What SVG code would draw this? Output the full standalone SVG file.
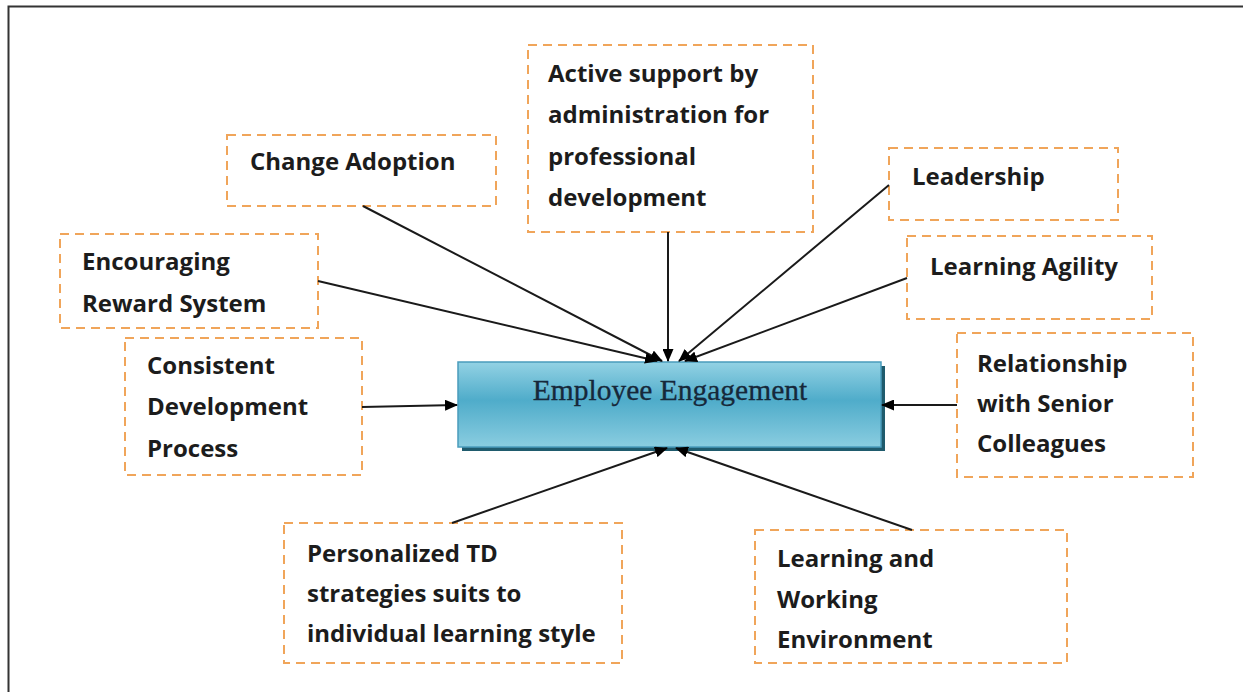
<svg xmlns="http://www.w3.org/2000/svg" width="1243" height="692" viewBox="0 0 1243 692">
  <style>
    .box { fill: #ffffff; stroke: #f0a55a; stroke-width: 2; stroke-dasharray: 9 6; }
    .lbl { font-family: "Open Sans", "Liberation Sans", sans-serif; font-weight: bold; font-size: 24px; fill: #1c1c1c; }
    .main { font-family: "Liberation Serif", "Times New Roman", serif; font-size: 29.5px; fill: #16283a; stroke: #16283a; stroke-width: 0.3; }
    .conn { stroke: #1a1a1a; stroke-width: 2; fill: none; marker-end: url(#arrow); }
  </style>
  <defs>
    <marker id="arrow" viewBox="0 0 13 11" refX="12" refY="5.5" markerWidth="13" markerHeight="11" markerUnits="userSpaceOnUse" orient="auto">
      <path d="M0,0 L13,5.5 L0,11 Z" fill="#000"/>
    </marker>
    <linearGradient id="core" x1="0" y1="0" x2="0" y2="1">
      <stop offset="0" stop-color="#93d2e4"/>
      <stop offset="0.45" stop-color="#4facca"/>
      <stop offset="1" stop-color="#8acde0"/>
    </linearGradient>
  </defs>

  <rect x="0" y="0" width="1243" height="692" fill="#ffffff"/>
  <!-- outer frame -->
  <rect x="8.5" y="6.5" width="1250" height="700" fill="none" stroke="#333333" stroke-width="2"/>

  <!-- central node -->
  <g id="employee-engagement">
    <rect x="462" y="366" width="423" height="85" fill="#1f5b6d"/>
    <rect x="458" y="362" width="423" height="85" fill="url(#core)" stroke="#4a9cbc" stroke-width="1.5"/>
    <text class="main" x="670" y="400" text-anchor="middle">Employee Engagement</text>
  </g>

  <g id="change-adoption">
    <rect class="box" x="227" y="135" width="269" height="71"/>
    <text class="lbl" x="250" y="170">Change Adoption</text>
  </g>

  <g id="active-support">
    <rect class="box" x="528" y="45" width="285" height="187"/>
    <text class="lbl" x="548" y="82">Active support by</text>
    <text class="lbl" x="548" y="123">administration for</text>
    <text class="lbl" x="548" y="165">professional</text>
    <text class="lbl" x="548" y="206">development</text>
  </g>

  <g id="leadership">
    <rect class="box" x="889" y="148" width="229" height="72"/>
    <text class="lbl" x="912" y="185">Leadership</text>
  </g>

  <g id="learning-agility">
    <rect class="box" x="907" y="236" width="245" height="83"/>
    <text class="lbl" x="930" y="275">Learning Agility</text>
  </g>

  <g id="reward-system">
    <rect class="box" x="60" y="234" width="258" height="94"/>
    <text class="lbl" x="82" y="270">Encouraging</text>
    <text class="lbl" x="82" y="312">Reward System</text>
  </g>

  <g id="development-process">
    <rect class="box" x="125" y="338" width="237" height="137"/>
    <text class="lbl" x="147" y="374">Consistent</text>
    <text class="lbl" x="147" y="415">Development</text>
    <text class="lbl" x="147" y="457">Process</text>
  </g>

  <g id="senior-colleagues">
    <rect class="box" x="957" y="333" width="236" height="144"/>
    <text class="lbl" x="977" y="372">Relationship</text>
    <text class="lbl" x="977" y="412">with Senior</text>
    <text class="lbl" x="977" y="452">Colleagues</text>
  </g>

  <g id="personalized-td">
    <rect class="box" x="284" y="523" width="338" height="140"/>
    <text class="lbl" x="307" y="562">Personalized TD</text>
    <text class="lbl" x="307" y="602">strategies suits to</text>
    <text class="lbl" x="307" y="642">individual learning style</text>
  </g>

  <g id="work-environment">
    <rect class="box" x="755" y="530" width="312" height="133"/>
    <text class="lbl" x="777" y="567">Learning and</text>
    <text class="lbl" x="777" y="608">Working</text>
    <text class="lbl" x="777" y="648">Environment</text>
  </g>

  <!-- connectors -->
  <g id="connectors">
    <line class="conn" x1="363" y1="206" x2="662" y2="361"/>
    <line class="conn" x1="318" y1="281" x2="657" y2="361"/>
    <line class="conn" x1="668" y1="232" x2="668" y2="361"/>
    <line class="conn" x1="889" y1="185" x2="679" y2="361"/>
    <line class="conn" x1="907" y1="278" x2="685" y2="361"/>
    <line class="conn" x1="362" y1="407" x2="457" y2="405"/>
    <line class="conn" x1="957" y1="405" x2="882" y2="405"/>
    <line class="conn" x1="452" y1="523" x2="667" y2="448"/>
    <line class="conn" x1="912" y1="530" x2="676" y2="448"/>
  </g>
</svg>
